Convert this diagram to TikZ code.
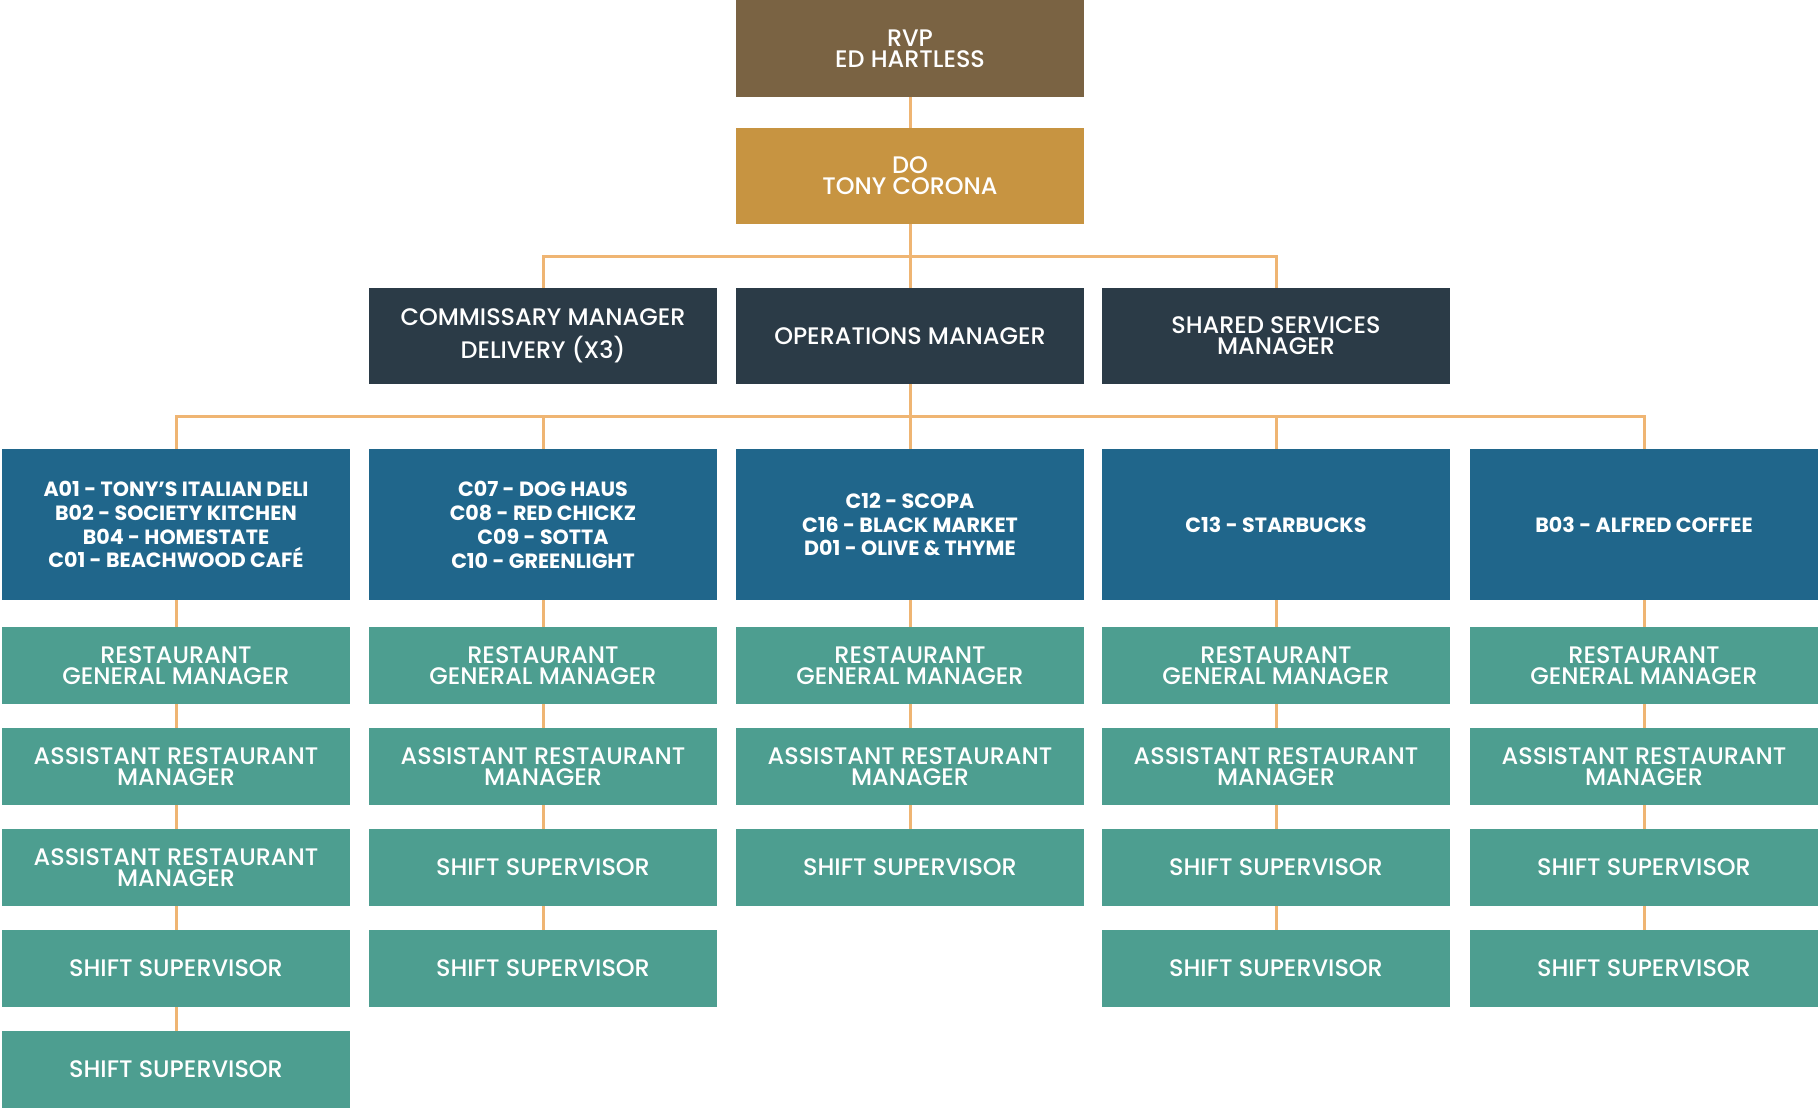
\documentclass[tikz,border=0pt]{standalone}
\usepackage{fontspec}
\setmainfont{Poppins}[UprightFont=* Medium, BoldFont=* Bold]
\newfontfamily\unitfont{Poppins}[UprightFont=* Bold]

\definecolor{rvpbrown}{HTML}{7A6343}
\definecolor{dogold}{HTML}{C79441}
\definecolor{mgrslate}{HTML}{2B3B47}
\definecolor{unitblue}{HTML}{20668B}
\definecolor{roleteal}{HTML}{4D9E90}
\definecolor{linkorange}{HTML}{EFB573}

\begin{document}
\begin{tikzpicture}[x=1bp,y=-1bp,
        box/.style={minimum width=348bp, inner sep=0pt, text=white, align=center,
            font=\fontsize{24}{21}\selectfont},
        rvpbox/.style={box, fill=rvpbrown, minimum height=97bp},
        dobox/.style={box, fill=dogold, minimum height=96bp},
        mgrbox/.style={box, fill=mgrslate, minimum height=96bp},
        unitbox/.style={box, fill=unitblue, minimum height=151bp,
            font=\unitfont\fontsize{20.7}{24}\selectfont},
        rolebox/.style={box, fill=roleteal, minimum height=77bp},
        link/.style={draw=linkorange, line width=3bp}]
        \useasboundingbox (0,0) rectangle (1819,1109);

        % top of the chart
        \node[rvpbox] (rvp) at (910,48.5) {RVP\\ED HARTLESS};
        \node[dobox] (do) at (910,176) {DO\\TONY CORONA};

        \node[mgrbox] (comm) at (543,336) {COMMISSARY MANAGER\\[10bp]DELIVERY (X3)};
        \node[mgrbox] (ops) at (910,336) {OPERATIONS MANAGER};
        \node[mgrbox] (shared) at (1276,336) {SHARED SERVICES\\MANAGER};

        % restaurants
        \node[unitbox] (unitA) at (176,524.5) {A01 - TONY’S ITALIAN DELI\\B02 - SOCIETY KITCHEN\\B04 - HOMESTATE\\C01 - BEACHWOOD CAFÉ};
        \node[unitbox] (unitB) at (543,524.5) {C07 - DOG HAUS\\C08 - RED CHICKZ\\C09 - SOTTA\\C10 - GREENLIGHT};
        \node[unitbox] (unitC) at (910,524.5) {C12 - SCOPA\\C16 - BLACK MARKET\\D01 - OLIVE \& THYME};
        \node[unitbox] (unitD) at (1276,524.5) {C13 - STARBUCKS};
        \node[unitbox] (unitE) at (1644,524.5) {B03 - ALFRED COFFEE};

        % staff, column A
        \node[rolebox] (rgmA) at (176,665.5) {RESTAURANT\\GENERAL MANAGER};
        \node[rolebox] (armA) at (176,766.5) {ASSISTANT RESTAURANT\\MANAGER};
        \node[rolebox] (armAA) at (176,867.5) {ASSISTANT RESTAURANT\\MANAGER};
        \node[rolebox] (ssA) at (176,968.5) {SHIFT SUPERVISOR};
        \node[rolebox] (ssAA) at (176,1069.5) {SHIFT SUPERVISOR};

        % column B
        \node[rolebox] (rgmB) at (543,665.5) {RESTAURANT\\GENERAL MANAGER};
        \node[rolebox] (armB) at (543,766.5) {ASSISTANT RESTAURANT\\MANAGER};
        \node[rolebox] (ssB) at (543,867.5) {SHIFT SUPERVISOR};
        \node[rolebox] (ssBB) at (543,968.5) {SHIFT SUPERVISOR};

        % column C
        \node[rolebox] (rgmC) at (910,665.5) {RESTAURANT\\GENERAL MANAGER};
        \node[rolebox] (armC) at (910,766.5) {ASSISTANT RESTAURANT\\MANAGER};
        \node[rolebox] (ssC) at (910,867.5) {SHIFT SUPERVISOR};

        % column D
        \node[rolebox] (rgmD) at (1276,665.5) {RESTAURANT\\GENERAL MANAGER};
        \node[rolebox] (armD) at (1276,766.5) {ASSISTANT RESTAURANT\\MANAGER};
        \node[rolebox] (ssD) at (1276,867.5) {SHIFT SUPERVISOR};
        \node[rolebox] (ssDD) at (1276,968.5) {SHIFT SUPERVISOR};

        % column E
        \node[rolebox] (rgmE) at (1644,665.5) {RESTAURANT\\GENERAL MANAGER};
        \node[rolebox] (armE) at (1644,766.5) {ASSISTANT RESTAURANT\\MANAGER};
        \node[rolebox] (ssE) at (1644,867.5) {SHIFT SUPERVISOR};
        \node[rolebox] (ssEE) at (1644,968.5) {SHIFT SUPERVISOR};

        % connectors
        \coordinate (mgrbus) at (910,256);
        \coordinate (unitbus) at (910,416);
        \draw[link] (rvp.south) -- (do.north);
        \draw[link] (do.south) -- (ops.north);
        \draw[link] (comm.north) |- (mgrbus) -| (shared.north);
        \draw[link] (ops.south) -- (unitC.north);
        \draw[link] (unitA.north) |- (unitbus) -| (unitE.north);
        \draw[link] (unitB.north) -- (unitB.north |- unitbus);
        \draw[link] (unitD.north) -- (unitD.north |- unitbus);

        \draw[link] (unitA.south) -- (rgmA.north);
        \draw[link] (rgmA.south) -- (armA.north);
        \draw[link] (armA.south) -- (armAA.north);
        \draw[link] (armAA.south) -- (ssA.north);
        \draw[link] (ssA.south) -- (ssAA.north);

        \draw[link] (unitB.south) -- (rgmB.north);
        \draw[link] (rgmB.south) -- (armB.north);
        \draw[link] (armB.south) -- (ssB.north);
        \draw[link] (ssB.south) -- (ssBB.north);

        \draw[link] (unitC.south) -- (rgmC.north);
        \draw[link] (rgmC.south) -- (armC.north);
        \draw[link] (armC.south) -- (ssC.north);

        \draw[link] (unitD.south) -- (rgmD.north);
        \draw[link] (rgmD.south) -- (armD.north);
        \draw[link] (armD.south) -- (ssD.north);
        \draw[link] (ssD.south) -- (ssDD.north);

        \draw[link] (unitE.south) -- (rgmE.north);
        \draw[link] (rgmE.south) -- (armE.north);
        \draw[link] (armE.south) -- (ssE.north);
        \draw[link] (ssE.south) -- (ssEE.north);
    \end{tikzpicture}
\end{document}
